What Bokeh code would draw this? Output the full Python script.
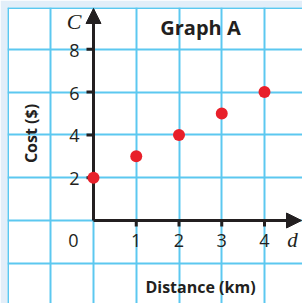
from bokeh.plotting import figure
from bokeh.models import (Range1d, FixedTicker, Span, Arrow, NormalHead, Grid)
from bokeh.core.properties import value
from bokeh.embed import file_html
from bokeh.resources import INLINE

# ---- data ----
distance = [0, 1, 2, 3, 4]
cost = [2, 3, 4, 5, 6]
x_ticks = [1, 2, 3, 4]
x_tick_labels = ["1", "2", "3", "4"]
y_ticks = [2, 4, 6, 8]
y_tick_labels = ["2", "4", "6", "8"]
grid_x = [-1, 0, 1, 2, 3, 4]
grid_y = [-2, 0, 2, 4, 6, 8]

# ---- layout (page pixels) ----
W, H = 302, 303
FRAME_LEFT, FRAME_TOP = 7, 7
ORIGIN_X, ORIGIN_Y = 93.0, 220.0      # page px of (0,0)
PX_PER_X, PX_PER_Y = 42.75, 21.4      # px per km, px per $


def dx(page_x):
    return (page_x - ORIGIN_X) / PX_PER_X


def dy(page_y):
    return (ORIGIN_Y - page_y) / PX_PER_Y


x0, x1 = dx(FRAME_LEFT), dx(W)
y0, y1 = dy(H), dy(FRAME_TOP)

INK = "#231f20"
GRID = "#5cc8f0"
FONT = "Open Sans"

p = figure(width=W, height=H, x_range=Range1d(x0, x1), y_range=Range1d(y0, y1),
           output_backend="svg", toolbar_location=None,
           min_border_left=FRAME_LEFT, min_border_top=FRAME_TOP,
           min_border_right=0, min_border_bottom=0,
           x_axis_type=None, y_axis_type=None)
p.outline_line_color = None
p.background_fill_color = "white"
p.border_fill_color = "#e2eef9"

p.add_layout(Grid(dimension=0, ticker=FixedTicker(ticks=grid_x),
                  grid_line_color=GRID, grid_line_width=2))
p.add_layout(Grid(dimension=1, ticker=FixedTicker(ticks=grid_y),
                  grid_line_color=GRID, grid_line_width=2))
p.add_layout(Span(location=dx(FRAME_LEFT + 0.5), dimension="height",
                  line_color=GRID, line_width=2))
p.add_layout(Span(location=dy(FRAME_TOP + 0.5), dimension="width",
                  line_color=GRID, line_width=2))

# axes with arrows
p.add_layout(Arrow(x_start=0, y_start=0, x_end=0, y_end=dy(8), line_width=3,
                   line_color=INK,
                   end=NormalHead(size=15, fill_color=INK, line_color=INK)))
p.add_layout(Arrow(x_start=0, y_start=0, x_end=dx(301), y_end=0, line_width=3,
                   line_color=INK,
                   end=NormalHead(size=15, fill_color=INK, line_color=INK)))

# tick marks
p.segment(x0=x_ticks, y0=[0] * len(x_ticks), x1=x_ticks,
          y1=[-6 / PX_PER_Y] * len(x_ticks), line_color=INK, line_width=3)
p.segment(x0=[0] * len(y_ticks), y0=y_ticks, x1=[-7 / PX_PER_X] * len(y_ticks),
          y1=y_ticks, line_color=INK, line_width=3)

# tick labels (anchor = visual centre of the glyphs)
p.text(x=x_ticks, y=[0] * len(x_ticks), text=x_tick_labels, x_offset=0, y_offset=20,
       text_align="center", text_baseline="middle", text_font=value(FONT),
       text_font_size="18px", text_color=INK)
p.text(x=[0] * len(y_ticks), y=y_ticks, text=y_tick_labels, x_offset=-19, y_offset=1,
       text_align="center", text_baseline="middle", text_font=value(FONT),
       text_font_size="18px", text_color=INK)


def put(text, page_x, page_y, size, font=FONT, style="normal", angle=0.0):
    p.text(x=[dx(page_x)], y=[dy(page_y)], text=[text], angle=angle,
           text_align="center", text_baseline="middle", text_font=value(font),
           text_font_style=style, text_font_size=size, text_color=INK)


put("0", 73, 240, "18px")
put("C", 73.5, 20.5, "22px", "Liberation Serif", "italic")
put("d", 292, 239, "21px", "Liberation Serif", "italic")
put("Graph A", 200, 27, "20px", style="bold")
put("Distance (km)", 200, 286, "16px", style="bold")
put("Cost ($)", 30.5, 133, "16px", style="bold", angle=1.5708)

# data points
p.scatter(x=distance, y=cost, size=12, fill_color="#e8202a", line_color=None,
          level="overlay")

open("out.html", "w").write(file_html(p, INLINE))
